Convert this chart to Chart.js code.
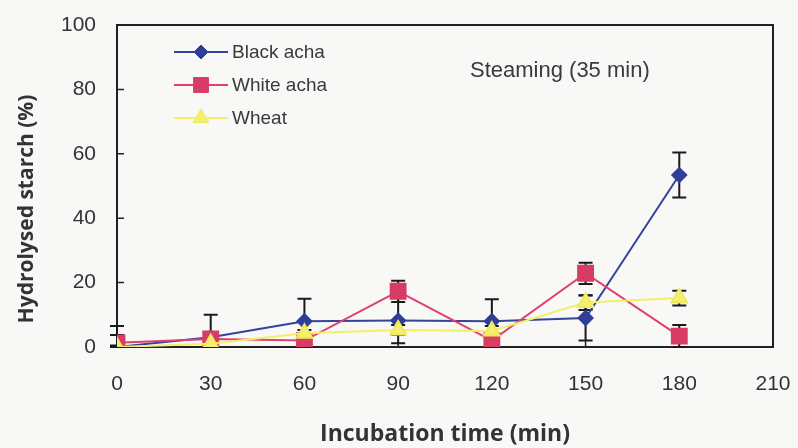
<!DOCTYPE html>
<html>
<head>
<meta charset="utf-8">
<script src="https://cdn.jsdelivr.net/npm/chart.js@4.4.0/dist/chart.umd.min.js"></script>
<style>
  html, body { margin: 0; padding: 0; background: #f8f8f6; }
  #wrap { width: 798px; height: 448px; }
</style>
</head>
<body>
<div id="wrap"><canvas id="starchChart" width="798" height="448"></canvas></div>
<script>
// incubation time (min)
var times = [0, 30, 60, 90, 120, 150, 180];

// hydrolysed starch (%) and error bars
var blackAcha = [0, 3, 8, 8.2, 8, 9, 53.4];
var blackAchaErr = [6.5, 7, 7, 7, 6.8, 7, 7];
var whiteAcha = [1.3, 2.5, 2, 17.3, 2, 22.9, 3.4];
var whiteAchaErr = [2.4, 2, 2, 3.3, 2, 3.3, 3.4];
var wheat = [0, 1, 4.3, 5.3, 5, 13.8, 15.2];
var wheatErr = [0.5, 1.5, 1, 1.5, 1.5, 2.3, 2.3];

var seriesNames = ["Black acha", "White acha", "Wheat"];
var xTicks = [0, 30, 60, 90, 120, 150, 180, 210];
var yTicks = [0, 20, 40, 60, 80, 100];
var noteText = "Steaming (35 min)";
var yTitle = "Hydrolysed starch (%)";
var xTitle = "Incubation time (min)";

function toPoints(ys) {
  return times.map(function(t, i) { return { x: t, y: ys[i] }; });
}

var errBars = [blackAchaErr, whiteAchaErr, wheatErr];

var frameAndErrors = {
  id: 'frameAndErrors',
  beforeDraw: function(chart) {
    var c = chart.ctx;
    c.save();
    c.fillStyle = '#f8f8f6';
    c.fillRect(0, 0, chart.width, chart.height);
    // y title, drawn by hand so it can sit a bit lower than the plot centre
    c.translate(27, 209);
    c.rotate(-Math.PI / 2);
    c.fillStyle = '#333';
    c.font = 'bold 21px "Open Sans", sans-serif';
    c.textAlign = 'center';
    c.textBaseline = 'middle';
    c.fillText(yTitle, 0, 0);
    c.restore();
  },
  beforeDatasetsDraw: function(chart) {
    var c = chart.ctx, xs = chart.scales.x, ys = chart.scales.y;
    var a = chart.chartArea;
    c.save();
    // frame
    c.strokeStyle = '#222';
    c.lineWidth = 2;
    c.strokeRect(a.left, a.top, a.right - a.left, a.bottom - a.top);
    // inner tick marks
    c.lineWidth = 1.5;
    c.beginPath();
    yTicks.forEach(function(v) {
      var py = ys.getPixelForValue(v);
      c.moveTo(a.left, py); c.lineTo(a.left + 7, py);
    });
    xTicks.forEach(function(v) {
      var px = xs.getPixelForValue(v);
      c.moveTo(px, a.bottom); c.lineTo(px, a.bottom - 6);
    });
    c.stroke();
    // error bars
    c.strokeStyle = '#1a1a1a';
    c.lineWidth = 2;
    chart.data.datasets.forEach(function(ds, di) {
      var err = errBars[di];
      ds.data.forEach(function(p, i) {
        var px = xs.getPixelForValue(p.x);
        var hi = ys.getPixelForValue(p.y + err[i]);
        var lo = ys.getPixelForValue(Math.max(0, p.y - err[i]));
        c.beginPath();
        c.moveTo(px, hi); c.lineTo(px, lo);
        c.moveTo(px - 7, hi); c.lineTo(px + 7, hi);
        c.moveTo(px - 7, lo); c.lineTo(px + 7, lo);
        c.stroke();
      });
    });
    c.restore();
  },
  afterDatasetsDraw: function(chart) {
    var c = chart.ctx;
    c.save();
    // legend inside the plot
    chart.data.datasets.forEach(function(ds, i) {
      var y = 52 + i * 33;
      c.strokeStyle = ds.borderColor;
      c.lineWidth = 2;
      c.beginPath();
      c.moveTo(174, y); c.lineTo(228, y);
      c.stroke();
      c.fillStyle = ds.pointBackgroundColor;
      c.strokeStyle = ds.pointBorderColor;
      c.lineWidth = 1;
      Chart.helpers.drawPoint(c, {
        pointStyle: ds.pointStyle, radius: ds.pointRadius, borderWidth: 1
      }, 201, y);
      c.fillStyle = '#3a3a3a';
      c.font = '19px "Liberation Sans", Arial, sans-serif';
      c.textBaseline = 'middle';
      c.fillText(seriesNames[i], 232, y + 1);
    });
    c.fillStyle = '#3a3a3a';
    c.font = '22px "Liberation Sans", Arial, sans-serif';
    c.textBaseline = 'middle';
    c.fillText(noteText, 470, 71);
    c.restore();
  }
};

var ctx = document.getElementById('starchChart').getContext('2d');
var starchChart = new Chart(ctx, {
  type: 'line',
  data: {
    datasets: [
      {
        label: seriesNames[0],
        data: toPoints(blackAcha),
        borderColor: '#34449c',
        backgroundColor: '#2f3f98',
        pointBackgroundColor: '#2f3f98',
        pointBorderColor: '#2f3f98',
        pointStyle: 'rectRot',
        pointRadius: 7,
        borderWidth: 2,
        order: 3
      },
      {
        label: seriesNames[1],
        data: toPoints(whiteAcha),
        borderColor: '#e0406e',
        backgroundColor: '#d83c64',
        pointBackgroundColor: '#d83c64',
        pointBorderColor: '#d83c64',
        pointStyle: 'rect',
        pointRadius: 10.5,
        borderWidth: 2,
        order: 2
      },
      {
        label: seriesNames[2],
        data: toPoints(wheat),
        borderColor: '#f2ef6a',
        backgroundColor: '#f4f06e',
        pointBackgroundColor: '#f4f06e',
        pointBorderColor: '#efe95e',
        pointStyle: 'triangle',
        pointRadius: 9,
        borderWidth: 2,
        order: 1
      }
    ]
  },
  options: {
    responsive: false,
    animation: false,
    layout: { padding: { left: 0, right: 25, top: 25, bottom: 0 } },
    plugins: { legend: { display: false }, tooltip: { enabled: false } },
    scales: {
      x: {
        type: 'linear',
        min: 0, max: 210,
        afterBuildTicks: function(s) { s.ticks = xTicks.map(function(v) { return { value: v }; }); },
        afterFit: function(s) { s.height = 101; s.paddingLeft = 0; s.paddingRight = 0; },
        grid: { display: false, drawTicks: false },
        border: { display: false },
        ticks: { padding: 25, color: '#333', font: { family: '"Liberation Sans", Arial, sans-serif', size: 21 } },
        title: {
          display: true,
          text: xTitle,
          color: '#333',
          padding: { top: 13, bottom: 0 },
          font: { family: '"Open Sans", sans-serif', size: 23, weight: 'bold' }
        }
      },
      y: {
        min: 0, max: 100,
        afterBuildTicks: function(s) { s.ticks = yTicks.map(function(v) { return { value: v }; }); },
        afterFit: function(s) { s.width = 117; s.paddingTop = 0; s.paddingBottom = 0; },
        grid: { display: false, drawTicks: false },
        border: { display: false },
        ticks: { padding: 21, color: '#333', font: { family: '"Liberation Sans", Arial, sans-serif', size: 21 } },
        title: { display: false }
      }
    }
  },
  plugins: [frameAndErrors]
});
</script>
</body>
</html>
